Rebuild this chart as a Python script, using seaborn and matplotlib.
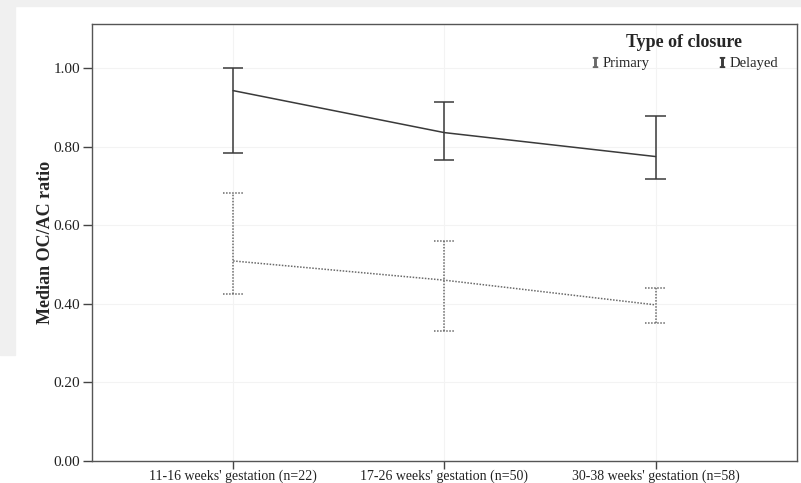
import matplotlib
matplotlib.use("Agg")
import numpy as np
import pandas as pd
import matplotlib.pyplot as plt
import seaborn as sns
from matplotlib.lines import Line2D
from matplotlib.patches import Rectangle

# gestation groups on the x axis
groups = ["11-16 weeks' gestation (n=22)",
          "17-26 weeks' gestation (n=50)",
          "30-38 weeks' gestation (n=58)"]

# median OC/AC ratio with range, per type of closure
delayed_median = [0.943, 0.836, 0.775]
delayed_low = [0.783, 0.765, 0.718]
delayed_high = [1.00, 0.913, 0.879]

primary_median = [0.509, 0.460, 0.397]
primary_low = [0.425, 0.330, 0.350]
primary_high = [0.683, 0.560, 0.441]

closures = ["Primary", "Delayed"]

df = pd.DataFrame({
    "pos": list(range(len(groups))) * 2,
    "median": primary_median + delayed_median,
    "low": primary_low + delayed_low,
    "high": primary_high + delayed_high,
    "closure": ["Primary"] * len(groups) + ["Delayed"] * len(groups),
})

sns.set_theme(style="white")
plt.rcParams["font.family"] = ["Liberation Serif", "DejaVu Serif"]
plt.rcParams["mathtext.fontset"] = "stix"

colors = {"Primary": "#6a6a6a", "Delayed": "#3a3a3a"}
styles = {"Primary": (0, (1, 1)), "Delayed": "-"}
cap_half = 0.048  # half width of the caps, in category units

fig = plt.figure(figsize=(8.01, 4.83), dpi=100)
fig.patch.set_facecolor("white")
# greyish screenshot border
fig.patches.append(Rectangle((0, 0.988), 1, 0.012, transform=fig.transFigure,
                             color="#f0f0f0", zorder=-10))
fig.patches.append(Rectangle((0, 0.265), 0.019, 0.735, transform=fig.transFigure,
                             color="#f0f0f0", zorder=-10))

ax = fig.add_axes([0.1149, 0.0462, 0.8797, 0.9035])
ax.set_facecolor("white")

sns.lineplot(data=df, x="pos", y="median", hue="closure", style="closure",
             palette=colors, dashes={"Primary": (1, 1), "Delayed": ""},
             linewidth=1.1, legend=False, ax=ax)

# range bars with caps
for closure in closures:
    sub = df[df["closure"] == closure]
    ax.vlines(sub["pos"], sub["low"], sub["high"], colors=colors[closure],
              linestyles=styles[closure], linewidth=1.1)
    for col in ["low", "high"]:
        ax.hlines(sub[col], sub["pos"] - cap_half, sub["pos"] + cap_half,
                  colors=colors[closure], linestyles=styles[closure],
                  linewidth=1.1)

ax.set_xlim(-0.668, 2.668)
ax.set_ylim(0, 1.112)
ax.set_xticks(range(len(groups)))
ax.set_xticklabels(groups, fontsize=10)
ax.set_yticks(np.arange(0, 1.01, 0.2))
ax.set_yticklabels([f"{v:.2f}" for v in np.arange(0, 1.01, 0.2)], fontsize=11)
ax.set_xlabel("")
ax.set_ylabel("Median OC/AC ratio", fontsize=13, fontweight="bold", labelpad=0)
ax.tick_params(axis="both", direction="out", width=1, color="#444",
               labelcolor="#222", bottom=True, left=True)
ax.tick_params(axis="x", length=5.6, pad=0.5)
ax.tick_params(axis="y", length=6.5, pad=2)

ax.grid(True, color="#f3f3f3", linewidth=0.8)
ax.set_axisbelow(True)
for s in ax.spines.values():
    s.set_color("#555")
    s.set_linewidth(1)

handles = [Line2D([], [], ls="none", marker=r"$\mathrm{I}$", markersize=7,
                  color=colors[c]) for c in closures]
leg = ax.legend(handles, closures, title="Type of closure", ncol=2,
                frameon=False, loc="upper center", bbox_to_anchor=(0.84, 0.998),
                columnspacing=4.6, handletextpad=0.1, handlelength=0.8,
                borderaxespad=0.2, fontsize=10.5,
                title_fontproperties={"weight": "bold", "size": 13})
leg._legend_box.sep = 4

fig.savefig("out.png", dpi=100)
